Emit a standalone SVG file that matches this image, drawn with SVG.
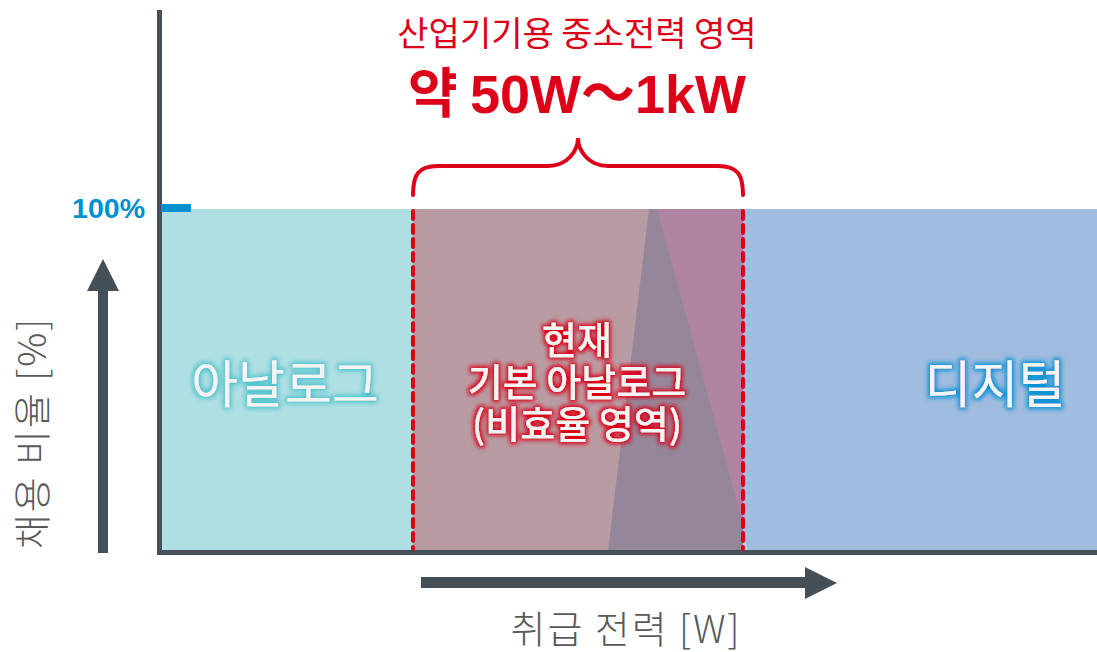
<svg xmlns="http://www.w3.org/2000/svg" width="1097" height="652" viewBox="0 0 1097 652">
<defs>
<style>
.kr{font-family:"Noto Sans CJK KR","Noto Sans",sans-serif}
.axl{fill:#595959;font-size:38px;font-weight:300}
.red{fill:#DC0018}
.glow{fill:#F4F4F4;text-anchor:middle}
.dash{stroke:#DC0018;stroke-width:4;stroke-dasharray:8 6;stroke-linecap:round;fill:none}
.axis{fill:#454F58}
</style>
<filter id="gCyan" x="-20%" y="-40%" width="140%" height="180%">
<feMorphology in="SourceAlpha" operator="dilate" radius="2" result="d"/>
<feGaussianBlur in="d" stdDeviation="2.5" result="b"/>
<feFlood flood-color="#4EC3CC"/>
<feComposite in2="b" operator="in" result="c"/>
<feMerge><feMergeNode in="c"/><feMergeNode in="SourceGraphic"/></feMerge>
</filter>
<filter id="gBlue" x="-20%" y="-40%" width="140%" height="180%">
<feMorphology in="SourceAlpha" operator="dilate" radius="2" result="d"/>
<feGaussianBlur in="d" stdDeviation="2.5" result="b"/>
<feFlood flood-color="#0090D4"/>
<feComposite in2="b" operator="in" result="c"/>
<feMerge><feMergeNode in="c"/><feMergeNode in="SourceGraphic"/></feMerge>
</filter>
<filter id="gRed" x="-20%" y="-40%" width="140%" height="180%">
<feMorphology in="SourceAlpha" operator="dilate" radius="2" result="d"/>
<feGaussianBlur in="d" stdDeviation="2" result="b"/>
<feFlood flood-color="#DC0018"/>
<feComposite in2="b" operator="in" result="c"/>
<feMerge><feMergeNode in="c"/><feMergeNode in="SourceGraphic"/></feMerge>
</filter>
</defs>
<rect width="1097" height="652" fill="#FFFFFF"/>

<g id="areas">
<rect x="160" y="209" width="253" height="342" fill="#B0DFE3"/>
<rect x="743" y="209" width="354" height="342" fill="#A0BCDF"/>
<rect x="413" y="209" width="330" height="342" fill="#B99BA3"/>
<polygon points="653,209 743,209 743,528" fill="#B084A0"/>
<polygon points="649,209 657,209 743,524 743,551 608,551" fill="#96869A"/>
<polygon points="743,535 748,551 743,551" fill="#B0DFE3"/>
</g>

<g id="axes">
<rect class="axis" x="157" y="10" width="5" height="545"/>
<rect class="axis" x="157" y="550" width="940" height="5"/>
<rect x="161" y="204" width="30" height="8" fill="#0090D0"/>
<text x="145" y="218" text-anchor="end" font-family="Liberation Sans, Arial, sans-serif" font-weight="bold" font-size="28.5" fill="#0090D0">100%</text>
</g>

<g id="connectors">
<rect class="axis" x="98" y="289" width="10" height="264"/>
<polygon class="axis" points="103,259 119,291 87,291"/>
<rect class="axis" x="421" y="577" width="387" height="11"/>
<polygon class="axis" points="837,583 805,567 805,599"/>
<line class="dash" x1="413" y1="211" x2="413" y2="549"/>
<line class="dash" x1="743" y1="211" x2="743" y2="549"/>
<path d="M413,195 C413,175 418,166 438,166 L548,166 C568,166 578,150 578,138 C578,150 588,166 608,166 L718,166 C738,166 743,175 743,195" fill="none" stroke="#DC0018" stroke-width="4" stroke-linecap="round"/>
</g>

<g id="title">
<text class="kr red" x="577" y="46" text-anchor="middle" font-size="34">산업기기용 중소전력 영역</text>
<text class="red" x="577" y="113" text-anchor="middle" font-weight="bold" font-size="54"><tspan font-family="Noto Sans CJK KR, sans-serif">약 </tspan><tspan font-family="Liberation Sans, Arial, sans-serif">50W</tspan><tspan font-family="Noto Sans CJK KR, sans-serif">～</tspan><tspan font-family="Liberation Sans, Arial, sans-serif">1kW</tspan></text>
</g>

<g id="analog">
<text class="kr glow" x="285" y="403" font-size="51" filter="url(#gCyan)">아날로그</text>
</g>
<g id="digital">
<text class="kr glow" x="995" y="403" font-size="51" filter="url(#gBlue)">디지털</text>
</g>
<g id="current">
<text class="kr glow" font-size="38" font-weight="500" filter="url(#gRed)"><tspan x="577" y="354">현재</tspan><tspan x="577" y="396">기본 아날로그</tspan><tspan x="577" y="438">(비효율 영역)</tspan></text>
</g>

<g id="labels">
<text class="kr axl" x="626" y="643" text-anchor="middle" letter-spacing="2">취급 전력 [W]</text>
<text class="kr axl" transform="translate(46,433) rotate(-90)" text-anchor="middle" letter-spacing="2">채용 비율 [%]</text>
</g>
</svg>
